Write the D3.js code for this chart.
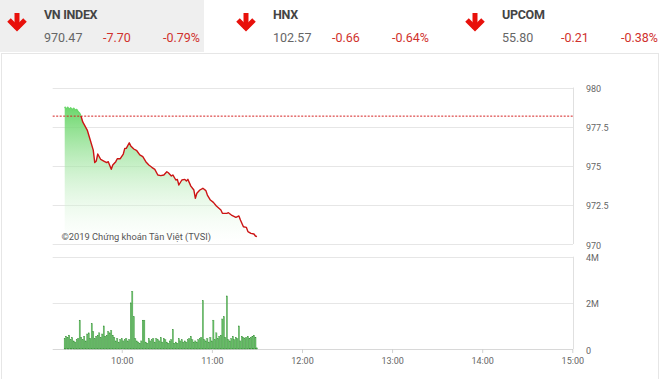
<!DOCTYPE html>
<html>
<head>
<meta charset="utf-8">
<script src="https://cdn.jsdelivr.net/npm/d3@7"></script>
<style>
body { margin: 0; background: #fff; }
svg { display: block; font-family: Roboto, "Noto Sans", sans-serif; }
</style>
</head>
<body>
<svg id="chart" width="660" height="379"></svg>
<script>
// header
var indexNames = ["VN INDEX", "HNX", "UPCOM"];
var indexValues = ["970.47", "102.57", "55.80"];
var indexChanges = ["-7.70", "-0.66", "-0.21"];
var indexPercents = ["-0.79%", "-0.64%", "-0.38%"];

// price line (minutes after 9:00)
var priceMinutes = [22,23,24,25,26,27,28,29,30,31,32,33,34,37,39,41,42,43,44,46,48,50,51,53,54,56,57,59,61,62,63,65,66,68,70,72,74,76,78,80,82,84,86,88,90,91,93,94,96,97,98,100,102,103,104,106,108,109,110,112,114,116,117,119,121,123,126,127,130,131,133,136,138,139,141,143,144,146,148,149,150];
var priceValues = [978.77,978.62,978.74,978.6,978.7,978.58,978.68,978.55,978.6,978.45,978.35,978.13,977.8,977.28,976.65,976.0,975.2,975.3,975.75,975.4,975.3,975.2,975.26,974.77,975.05,975.26,975.45,975.45,975.75,976.11,976.11,976.47,976.26,976.07,975.96,975.69,975.58,975.26,975.05,974.9,974.77,974.41,974.37,974.41,974.62,974.55,974.35,974.41,974.09,974.13,973.77,974.09,974.13,974.03,974.13,973.7,973.45,972.92,973.24,973.45,973.56,973.41,973.13,972.81,972.66,972.43,972.17,971.96,971.96,972.0,971.85,971.7,971.79,971.53,971.1,971.06,970.79,970.68,970.64,970.51,970.47];
var refPrice = 978.17;

// volume per minute (millions), minutes 22..150
var volumeStart = 22;
var volumeValues = [
  0.45,0.55,0.5,0.6,0.4,0.5,0.35,0.3,0.4,0.45,
  1.25,0.5,0.4,0.55,0.35,0.65,0.7,0.45,1.1,0.75,
  0.45,0.55,0.6,0.7,0.5,0.65,1.0,0.55,0.6,0.75,
  0.7,0.8,0.6,0.5,0.35,0.45,0.3,0.4,0.45,0.35,
  0.4,0.45,0.35,0.4,2.0,2.5,1.4,0.45,0.35,0.3,
  0.25,0.35,1.25,1.25,0.3,0.25,0.45,0.35,0.4,0.45,
  0.3,0.45,0.4,0.35,0.5,0.3,0.45,0.4,0.3,0.25,
  0.35,0.4,0.85,0.25,0.3,0.25,0.45,0.35,0.4,0.3,
  0.35,0.3,0.4,0.45,0.55,0.4,0.3,0.35,0.3,0.4,
  0.45,0.5,2.1,0.4,0.35,0.45,0.3,0.5,0.35,1.25,
  0.4,0.7,0.45,0.55,0.6,1.3,1.4,0.5,2.3,0.4,
  0.35,0.45,0.55,0.4,0.5,0.45,1.0,0.35,0.55,0.5,
  0.45,0.5,0.55,0.45,0.5,0.55,0.6,0.5,0.05
];

var priceTicks = [970, 972.5, 975, 977.5, 980];
var volumeTicks = [0, 2, 4];
var timeTicks = ["10:00", "11:00", "12:00", "13:00", "14:00", "15:00"];

var parseTime = d3.timeParse("%H:%M");
function atMinute(m) {
  var d = parseTime("09:00");
  return new Date(d.getTime() + m * 60000);
}

var svg = d3.select("#chart");

// header band
svg.append("rect").attr("x", 0).attr("y", 0).attr("width", 204).attr("height", 52).attr("fill", "#efefef");
svg.append("rect").attr("x", 1.5).attr("y", 53.5).attr("width", 657).attr("height", 330)
  .attr("fill", "none").attr("stroke", "#e6e6e6");

var headerX = [44, 273, 502];
indexNames.forEach(function(name, i) {
  var hx = headerX[i];
  var ax = hx - 27;
  var arrow = svg.append("g").attr("stroke", "#e8100b").attr("stroke-width", 5).attr("fill", "none");
  arrow.append("line").attr("x1", ax).attr("x2", ax).attr("y1", 13).attr("y2", 29);
  arrow.append("polyline").attr("points", (ax-8)+",20 "+ax+",28 "+(ax+8)+",20");

  svg.append("text").attr("x", hx).attr("y", 19)
    .style("font-size", "12.5px").style("font-weight", "bold").attr("fill", "#444")
    .style("letter-spacing", "-0.3px")
    .text(name);
  svg.append("text").attr("x", hx).attr("y", 42)
    .style("font-size", "12.5px").attr("fill", "#666").text(indexValues[i]);
  svg.append("text").attr("x", hx + 59).attr("y", 42)
    .style("font-size", "12.5px").attr("fill", "#d0312d").text(indexChanges[i]);
  svg.append("text").attr("x", hx + 119).attr("y", 42)
    .style("font-size", "12.5px").attr("fill", "#d0312d").text(indexPercents[i]);
});

// scales
var x = d3.scaleTime()
  .domain([atMinute(14), atMinute(360)])
  .range([52.7, 572.3]);
var y = d3.scaleLinear().domain([970, 980]).range([244, 87.5]);
var yv = d3.scaleLinear().domain([0, 4]).range([349, 256.7]);

var defs = svg.append("defs");
var areaGrad = defs.append("linearGradient").attr("id", "areaGrad")
  .attr("gradientUnits", "userSpaceOnUse")
  .attr("x1", 0).attr("x2", 0).attr("y1", y(978.8)).attr("y2", y(970));
areaGrad.append("stop").attr("offset", "0%").attr("stop-color", "#62d462").attr("stop-opacity", 0.95);
areaGrad.append("stop").attr("offset", "100%").attr("stop-color", "#ffffff").attr("stop-opacity", 0.2);

var lineGrad = defs.append("linearGradient").attr("id", "lineGrad")
  .attr("gradientUnits", "userSpaceOnUse")
  .attr("x1", 0).attr("x2", 0).attr("y1", y(980)).attr("y2", y(970));
var refOff = (y(refPrice) - y(980)) / (y(970) - y(980));
lineGrad.append("stop").attr("offset", refOff).attr("stop-color", "#6ad66a");
lineGrad.append("stop").attr("offset", refOff).attr("stop-color", "#cc1414");

// price grid
var pg = svg.append("g");
pg.selectAll("line.grid").data(priceTicks).enter().append("line")
  .attr("x1", 52.7).attr("x2", 573).attr("y1", function(d) { return Math.round(y(d)) + 0.5; })
  .attr("y2", function(d) { return Math.round(y(d)) + 0.5; })
  .attr("stroke", "#e6e6e6");
pg.append("line").attr("x1", 573.5).attr("x2", 573.5).attr("y1", y(980)).attr("y2", y(970)).attr("stroke", "#e0e0e0");

var pts = priceMinutes.map(function(m, i) { return { t: atMinute(m), v: priceValues[i] }; });

var area = d3.area().x(function(d) { return x(d.t); }).y0(y(970)).y1(function(d) { return y(d.v); });
svg.append("path").datum(pts).attr("d", area).attr("fill", "url(#areaGrad)");

svg.append("line").attr("x1", 52.7).attr("x2", 573).attr("y1", y(refPrice)).attr("y2", y(refPrice))
  .attr("stroke", "#d42020").attr("stroke-width", 1).attr("stroke-dasharray", "2,1.5");

var line = d3.line().x(function(d) { return x(d.t); }).y(function(d) { return y(d.v); });
svg.append("path").datum(pts).attr("d", line).attr("fill", "none")
  .attr("stroke", "url(#lineGrad)").attr("stroke-width", 1.4).attr("stroke-linejoin", "round");

svg.append("text").attr("x", 61.5).attr("y", 239.5)
  .style("font-size", "9.3px").attr("fill", "#555")
  .text("©2019 Chứng khoán Tân Việt (TVSI)");

var pAxis = svg.append("g").attr("transform", "translate(573,0)")
  .call(d3.axisRight(y).tickValues(priceTicks).tickSize(0).tickPadding(13)
    .tickFormat(function(d) { return String(d); }));
pAxis.select(".domain").remove();
pAxis.selectAll("text").style("font-size", "9px").style("font-family", "Roboto").attr("fill", "#666").attr("dy", "0.45em");

// volume chart
var vg = svg.append("g");
vg.selectAll("line.grid").data(volumeTicks).enter().append("line")
  .attr("x1", 52.7).attr("x2", 573).attr("y1", function(d) { return Math.round(yv(d)) + 0.5; })
  .attr("y2", function(d) { return Math.round(yv(d)) + 0.5; })
  .attr("stroke", function(d) { return d === 0 ? "#d8d8d8" : "#e6e6e6"; });
vg.append("line").attr("x1", 573.5).attr("x2", 573.5).attr("y1", yv(4)).attr("y2", yv(0)).attr("stroke", "#e0e0e0");

svg.append("g").selectAll("rect").data(volumeValues).enter().append("rect")
  .attr("x", function(d, i) { return x(atMinute(volumeStart + i)) - 0.6; })
  .attr("width", 1.2)
  .attr("y", function(d) { return yv(d); })
  .attr("height", function(d) { return yv(0) - yv(d); })
  .attr("fill", "#6cc46c")
  .attr("stroke", "#2f8a2f").attr("stroke-width", 0.35);

var vAxis = svg.append("g").attr("transform", "translate(573,0)")
  .call(d3.axisRight(yv).tickValues(volumeTicks).tickSize(0).tickPadding(13)
    .tickFormat(function(d) { return d === 0 ? "0" : d + "M"; }));
vAxis.select(".domain").remove();
vAxis.selectAll("text").style("font-size", "9px").style("font-family", "Roboto").attr("fill", "#666").attr("dy", "0.45em");

var tAxis = svg.append("g").attr("transform", "translate(0,349)")
  .call(d3.axisBottom(x).tickValues(timeTicks.map(parseTime)).tickSize(4).tickPadding(5)
    .tickFormat(d3.timeFormat("%H:%M")));
tAxis.select(".domain").remove();
tAxis.selectAll("line").attr("stroke", "#d0d0d0");
tAxis.selectAll("text").style("font-size", "9px").style("font-family", "Roboto").attr("fill", "#666");
</script>
</body>
</html>
